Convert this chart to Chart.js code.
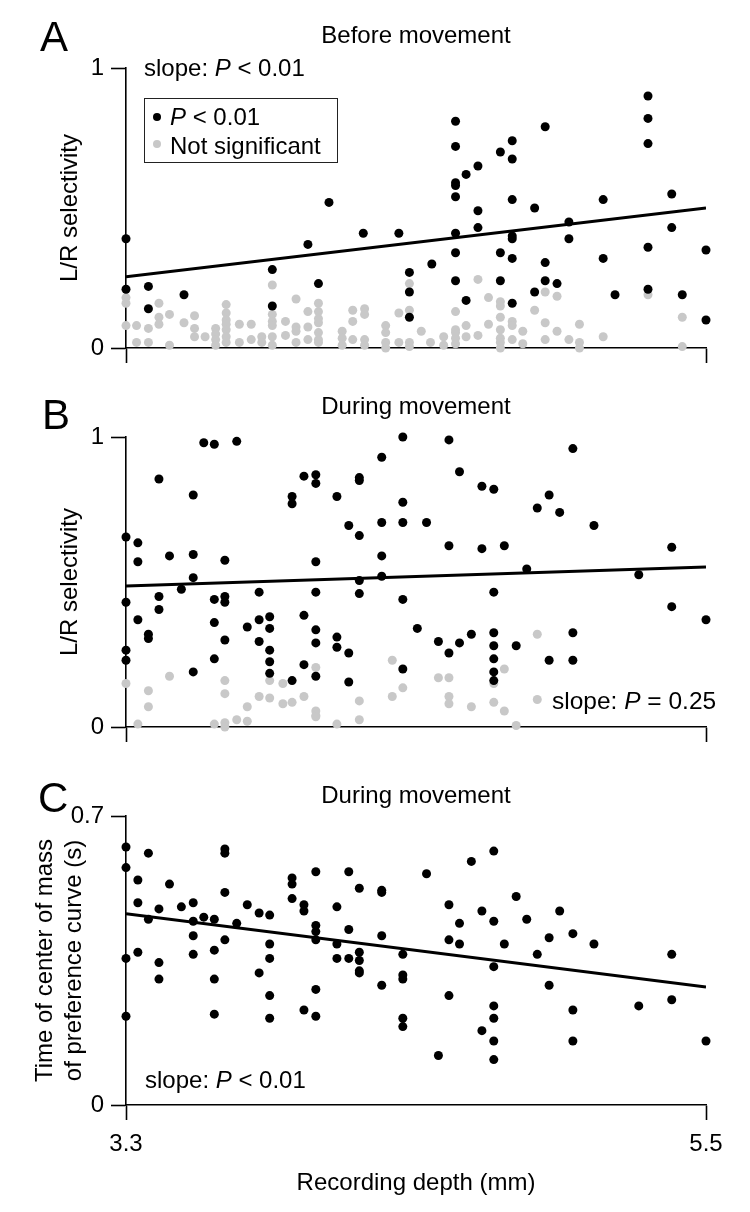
<!DOCTYPE html>
<html>
<head>
<meta charset="utf-8">
<script src="https://cdn.jsdelivr.net/npm/chart.js@4.4.1/dist/chart.umd.min.js"></script>
<style>
  body { margin: 0; background: #fff; }
  #wrap { position: relative; width: 750px; height: 1212px; font-family: "Liberation Sans", Arial, sans-serif; color: #000; }
  canvas { position: absolute; left: 0; }
  .t { position: absolute; font-size: 24px; line-height: 1; white-space: nowrap; }
  .big { font-size: 42px; }
  .ctr { left: 126px; width: 580px; text-align: center; }
  .dot { position: absolute; width: 8px; height: 8px; border-radius: 50%; }
  #legend { position: absolute; left: 144px; top: 98px; width: 192px; height: 63px; border: 1.5px solid #222; }
</style>
</head>
<body>
<div id="wrap">
  <canvas id="chartA" width="750" height="400" style="top:0px"></canvas>
  <canvas id="chartB" width="750" height="380" style="top:400px"></canvas>
  <canvas id="chartC" width="750" height="432" style="top:780px"></canvas>

  <div class="t big" style="left:40px;top:16px">A</div>
  <div class="t big" style="left:42px;top:394px">B</div>
  <div class="t big" style="left:38px;top:777px">C</div>

  <div class="t ctr" style="top:23px">Before movement</div>
  <div class="t ctr" style="top:394px">During movement</div>
  <div class="t ctr" style="top:783px">During movement</div>

  <div class="t" style="left:144px;top:56px">slope: <i>P</i> &lt; 0.01</div>
  <div class="t" style="left:552px;top:689px;font-size:24.5px">slope: <i>P</i> = 0.25</div>
  <div class="t" style="left:145px;top:1068px">slope: <i>P</i> &lt; 0.01</div>

  <div id="legend"></div>
  <div class="dot" style="left:153px;top:113px;background:#000"></div>
  <div class="t" style="left:170px;top:105px"><i>P</i> &lt; 0.01</div>
  <div class="dot" style="left:153px;top:140px;background:#c8c8c8"></div>
  <div class="t" style="left:170px;top:134px">Not significant</div>
</div>

<script>
// recording depth (mm) vs selectivity
const depthTicks = [3.3, 5.5];

// A: before movement
const aSig = [
  [3.30,0.39],[3.30,0.21],[3.385,0.22],[3.385,0.14],[3.52,0.19],[3.855,0.28],[3.855,0.15],[3.99,0.37],
  [4.03,0.23],[4.07,0.52],[4.20,0.41],[4.335,0.41],[4.375,0.27],[4.375,0.20],[4.375,0.11],[4.46,0.30],
  [4.55,0.81],[4.55,0.72],[4.55,0.59],[4.55,0.58],[4.55,0.54],[4.55,0.41],[4.55,0.34],[4.55,0.24],
  [4.59,0.62],[4.59,0.17],[4.635,0.65],[4.635,0.49],[4.635,0.43],
  [4.72,0.70],[4.72,0.34],[4.72,0.24],
  [4.765,0.74],[4.765,0.675],[4.765,0.53],[4.765,0.40],[4.765,0.39],[4.765,0.32],[4.765,0.16],
  [4.85,0.50],[4.85,0.20],[4.89,0.79],[4.89,0.305],[4.89,0.24],[4.935,0.23],[4.98,0.45],[4.98,0.39],
  [5.11,0.53],[5.11,0.32],[5.155,0.19],[5.28,0.90],[5.28,0.82],[5.28,0.73],[5.28,0.36],[5.28,0.21],
  [5.37,0.55],[5.37,0.43],[5.41,0.19],[5.50,0.35],[5.50,0.10]
];
const aNs = [
  [3.30,0.18],[3.30,0.16],[3.30,0.08],[3.34,0.08],[3.34,0.02],[3.385,0.07],[3.385,0.02],
  [3.425,0.16],[3.425,0.11],[3.425,0.085],[3.465,0.12],[3.465,0.01],[3.52,0.09],
  [3.56,0.115],[3.56,0.07],[3.56,0.04],[3.60,0.04],[3.64,0.07],[3.64,0.05],[3.64,0.03],[3.64,0.01],
  [3.68,0.155],[3.68,0.125],[3.68,0.10],[3.68,0.085],[3.68,0.065],[3.68,0.04],[3.68,0.02],
  [3.73,0.085],[3.73,0.02],[3.775,0.085],[3.775,0.03],[3.815,0.04],[3.815,0.02],
  [3.855,0.225],[3.855,0.12],[3.855,0.095],[3.855,0.08],[3.855,0.04],[3.855,0.01],
  [3.905,0.095],[3.905,0.045],[3.945,0.175],[3.945,0.075],[3.945,0.06],[3.945,0.02],
  [3.99,0.13],[3.99,0.075],[3.99,0.03],
  [4.03,0.16],[4.03,0.13],[4.03,0.105],[4.03,0.09],[4.03,0.055],[4.03,0.03],[4.03,0.02],
  [4.12,0.06],[4.12,0.035],[4.12,0.01],[4.16,0.135],[4.16,0.095],[4.16,0.03],
  [4.205,0.14],[4.205,0.12],[4.205,0.03],[4.205,0.01],
  [4.285,0.08],[4.285,0.055],[4.285,0.02],[4.285,0.0],
  [4.335,0.125],[4.335,0.02],[4.375,0.23],[4.375,0.135],[4.375,0.02],[4.375,0.005],
  [4.42,0.06],[4.455,0.02],[4.505,0.04],[4.505,0.01],
  [4.55,0.13],[4.55,0.065],[4.55,0.055],[4.55,0.035],[4.55,0.015],
  [4.59,0.08],[4.59,0.04],[4.635,0.245],[4.635,0.045],[4.675,0.18],[4.675,0.085],
  [4.72,0.165],[4.72,0.15],[4.72,0.11],[4.72,0.065],[4.72,0.035],[4.72,0.02],[4.72,0.0],
  [4.765,0.095],[4.765,0.08],[4.765,0.03],[4.805,0.06],[4.805,0.015],[4.85,0.135],
  [4.89,0.20],[4.89,0.09],[4.89,0.03],[4.935,0.185],[4.935,0.06],[4.98,0.03],
  [5.02,0.085],[5.02,0.02],[5.02,0.0],[5.11,0.04],[5.28,0.19],[5.41,0.11],[5.41,0.005]
];
const aFit = [[3.3,0.254],[5.5,0.50]];

// B: during movement
const bSig = [
  [3.30,0.655],[3.30,0.43],[3.30,0.265],[3.30,0.23],[3.345,0.635],[3.345,0.57],[3.345,0.37],[3.385,0.32],[3.385,0.305],
  [3.425,0.855],[3.425,0.45],[3.425,0.405],[3.465,0.59],[3.51,0.475],
  [3.555,0.80],[3.555,0.595],[3.555,0.515],[3.555,0.19],
  [3.595,0.98],[3.635,0.975],[3.635,0.44],[3.635,0.36],[3.635,0.235],
  [3.675,0.575],[3.675,0.45],[3.675,0.43],[3.675,0.30],
  [3.72,0.985],[3.76,0.345],[3.805,0.465],[3.805,0.37],[3.805,0.295],
  [3.845,0.38],[3.845,0.34],[3.845,0.265],[3.845,0.225],[3.845,0.185],
  [3.93,0.795],[3.93,0.77],[3.93,0.16],
  [3.975,0.865],[3.975,0.385],[3.975,0.215],
  [4.02,0.87],[4.02,0.84],[4.02,0.57],[4.02,0.465],[4.02,0.335],[4.02,0.29],[4.02,0.175],
  [4.10,0.795],[4.10,0.31],[4.10,0.275],
  [4.145,0.695],[4.145,0.255],[4.145,0.155],
  [4.185,0.86],[4.185,0.85],[4.185,0.66],[4.185,0.505],[4.185,0.46],
  [4.27,0.93],[4.27,0.705],[4.27,0.59],[4.27,0.52],
  [4.35,1.0],[4.35,0.775],[4.35,0.705],[4.35,0.44],[4.35,0.20],
  [4.405,0.34],[4.44,0.705],[4.485,0.295],
  [4.525,0.99],[4.525,0.625],[4.525,0.255],
  [4.565,0.88],[4.565,0.29],[4.61,0.32],
  [4.65,0.83],[4.65,0.615],
  [4.695,0.82],[4.695,0.465],[4.695,0.325],[4.695,0.28],[4.695,0.235],[4.695,0.19],[4.695,0.16],
  [4.735,0.625],[4.78,0.28],[4.82,0.545],[4.86,0.755],[4.905,0.80],[4.905,0.23],[4.945,0.74],
  [4.995,0.96],[4.995,0.325],[4.995,0.23],[5.075,0.695],[5.245,0.525],[5.37,0.62],[5.37,0.415],[5.50,0.37]
];
const bNs = [
  [3.30,0.15],[3.345,0.01],[3.385,0.125],[3.385,0.07],[3.465,0.175],[3.635,0.01],
  [3.675,0.16],[3.675,0.115],[3.675,0.015],[3.675,0.0],[3.72,0.025],[3.76,0.07],[3.76,0.02],
  [3.805,0.105],[3.845,0.16],[3.845,0.10],[3.895,0.15],[3.895,0.08],[3.93,0.085],[3.975,0.105],
  [4.02,0.205],[4.02,0.055],[4.02,0.04],[4.02,0.035],[4.10,0.01],[4.185,0.09],[4.185,0.025],
  [4.31,0.23],[4.31,0.105],[4.35,0.135],
  [4.485,0.17],[4.525,0.17],[4.525,0.105],[4.525,0.08],[4.61,0.07],
  [4.695,0.15],[4.695,0.085],[4.735,0.20],[4.735,0.055],[4.78,0.005],[4.86,0.32],[4.86,0.095]
];
const bFit = [[3.3,0.486],[5.5,0.552]];

// C: time of center of mass (s)
const cPts = [
  [3.30,0.625],[3.30,0.575],[3.30,0.355],[3.30,0.215],
  [3.345,0.545],[3.345,0.49],[3.345,0.37],[3.385,0.61],[3.385,0.45],
  [3.425,0.475],[3.425,0.345],[3.425,0.305],[3.465,0.535],[3.51,0.48],
  [3.555,0.49],[3.555,0.445],[3.555,0.41],[3.555,0.365],[3.595,0.455],
  [3.635,0.45],[3.635,0.375],[3.635,0.305],[3.635,0.22],
  [3.675,0.62],[3.675,0.61],[3.675,0.515],[3.675,0.40],
  [3.72,0.44],[3.76,0.485],[3.805,0.465],[3.805,0.32],
  [3.845,0.46],[3.845,0.39],[3.845,0.355],[3.845,0.265],[3.845,0.21],
  [3.93,0.55],[3.93,0.535],[3.93,0.50],[3.975,0.485],[3.975,0.47],[3.975,0.23],
  [4.02,0.565],[4.02,0.435],[4.02,0.42],[4.02,0.40],[4.02,0.28],[4.02,0.215],
  [4.10,0.48],[4.10,0.39],[4.10,0.355],[4.145,0.565],[4.145,0.425],[4.145,0.355],
  [4.185,0.525],[4.185,0.37],[4.185,0.35],[4.185,0.325],[4.185,0.32],
  [4.27,0.52],[4.27,0.515],[4.27,0.41],[4.27,0.29],
  [4.35,0.365],[4.35,0.315],[4.35,0.305],[4.35,0.21],[4.35,0.19],
  [4.44,0.56],[4.485,0.12],[4.525,0.485],[4.525,0.40],[4.525,0.265],
  [4.565,0.44],[4.565,0.39],[4.61,0.59],[4.65,0.47],[4.65,0.18],
  [4.695,0.615],[4.695,0.445],[4.695,0.335],[4.695,0.24],[4.695,0.21],[4.695,0.155],[4.695,0.11],
  [4.735,0.39],[4.78,0.505],[4.82,0.45],[4.86,0.365],[4.905,0.405],[4.905,0.29],[4.945,0.47],
  [4.995,0.415],[4.995,0.23],[4.995,0.155],[5.075,0.39],[5.245,0.24],[5.37,0.365],[5.37,0.255],[5.50,0.155]
];
const cFit = [[3.3,0.463],[5.5,0.286]];

Chart.defaults.font.family = '"Liberation Sans", Arial, sans-serif';
Chart.defaults.color = '#000';

function toXY(pairs) {
    return pairs.map(p => ({ x: p[0], y: p[1] }));
}

function drawPanel(id, p) {
    const axisLine = { display: true, color: '#000', width: 1.6 };
    const tickMarks = { drawOnChartArea: false, drawTicks: true, tickLength: 15, tickColor: '#000', tickWidth: 1.6, color: '#000' };

    new Chart(document.getElementById(id), {
        type: 'scatter',
        data: {
            datasets: [
                { data: toXY(p.sig), backgroundColor: '#000', borderWidth: 0, pointRadius: 4.5, clip: false },
                { type: 'line', data: toXY(p.fit), borderColor: '#000', borderWidth: 3, pointRadius: 0, fill: false },
                { data: toXY(p.ns), backgroundColor: '#c8c8c8', borderWidth: 0, pointRadius: 4.5, clip: false }
            ]
        },
        options: {
            responsive: false,
            animation: false,
            devicePixelRatio: 1,
            layout: { padding: { top: p.top, right: 44, left: 0, bottom: 0 } },
            plugins: { legend: { display: false }, tooltip: { enabled: false } },
            scales: {
                x: {
                    type: 'linear', min: 3.3, max: 5.5,
                    afterBuildTicks: s => { s.ticks = depthTicks.map(v => ({ value: v })); },
                    afterFit: s => { s.height = p.xh; },
                    border: axisLine,
                    grid: tickMarks,
                    ticks: { display: p.xLabels, padding: 10, font: { size: 24 }, callback: v => String(v) },
                    title: { display: p.xLabels, text: 'Recording depth (mm)', font: { size: 24 }, padding: { bottom: 14 } }
                },
                y: {
                    type: 'linear', min: 0, max: p.yMax,
                    afterBuildTicks: s => { s.ticks = [0, p.yMax].map(v => ({ value: v })); },
                    afterFit: s => { s.width = 126; },
                    border: axisLine,
                    grid: tickMarks,
                    ticks: { padding: 7, font: { size: 24 }, callback: v => String(v) },
                    title: { display: true, text: p.yTitle, font: { size: 24 }, padding: { top: p.yTitlePad } }
                }
            }
        }
    });
}

drawPanel('chartA', { sig: aSig, ns: aNs, fit: aFit, top: 68, xh: 52, yMax: 1, xLabels: false, yTitle: 'L/R selectivity', yTitlePad: 56 });
drawPanel('chartB', { sig: bSig, ns: bNs, fit: bFit, top: 37, xh: 53, yMax: 1, xLabels: false, yTitle: 'L/R selectivity', yTitlePad: 56 });
drawPanel('chartC', { sig: cPts, ns: [], fit: cFit, top: 36, xh: 107, yMax: 0.7, xLabels: true,
    yTitle: ['Time of center of mass', 'of preference curve (s)'], yTitlePad: 31 });
</script>
</body>
</html>
